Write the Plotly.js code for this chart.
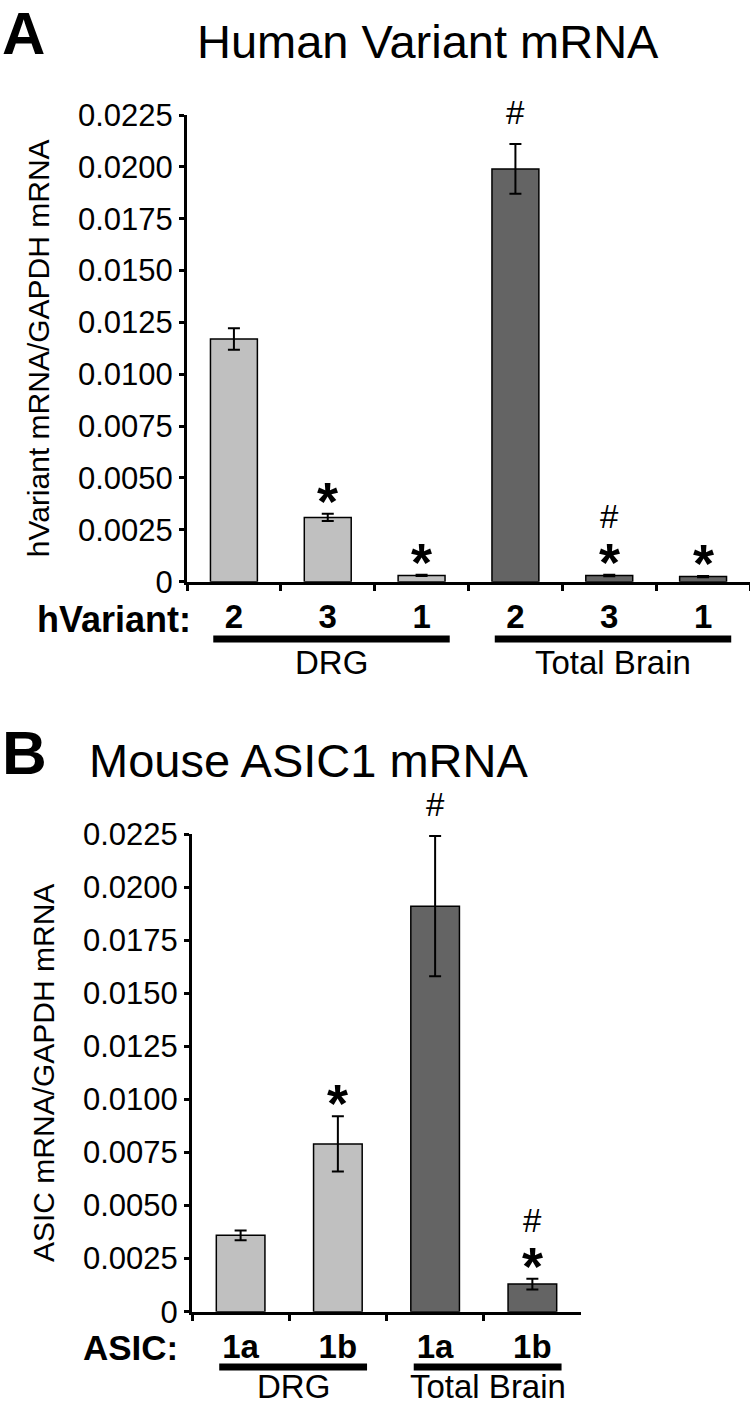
<!DOCTYPE html>
<html>
<head>
<meta charset="utf-8">
<script src="https://cdn.plot.ly/plotly-3.0.1.min.js"></script>
<style>
  body { margin: 0; background: #fff; }
  #chart { width: 750px; height: 1404px; }
</style>
</head>
<body>
<div id="chart"></div>
<script>
// panel A - human variants
var aVariants = ['2', '3', '1', '2', '3', '1'];
var aTissue = ['DRG', 'DRG', 'DRG', 'Total Brain', 'Total Brain', 'Total Brain'];
var aValues = [0.0117, 0.0031, 0.0003, 0.0199, 0.0003, 0.00025];
var aErrors = [0.00052, 0.00017, 0.00003, 0.0012, 0.00004, 0.00003];
var aStar = [false, true, true, false, true, true];
var aHash = [false, false, false, true, true, false];

// panel B - mouse ASIC1
var bIsoforms = ['1a', '1b', '1a', '1b'];
var bTissue = ['DRG', 'DRG', 'Total Brain', 'Total Brain'];
var bValues = [0.0036, 0.0079, 0.0191, 0.0013];
var bErrors = [0.00023, 0.0013, 0.0033, 0.00025];
var bStar = [false, true, false, true];
var bHash = [false, false, true, true];

var yTicks = [0, 0.0025, 0.005, 0.0075, 0.01, 0.0125, 0.015, 0.0175, 0.02, 0.0225];
var yTickText = ['0', '0.0025', '0.0050', '0.0075', '0.0100', '0.0125', '0.0150', '0.0175', '0.0200', '0.0225'];

var FONT = '"Liberation Sans", Arial, Helvetica, sans-serif';
var W = 750, H = 1404;
var tissueColor = { 'DRG': '#c0c0c0', 'Total Brain': '#646464' };

function px(x) { return x / W; }
function py(y) { return 1 - y / H; }

function cats(tissue, labels) {
  return labels.map(function (l, i) { return tissue[i] + ' ' + l + ' #' + i; });
}

var aCats = cats(aTissue, aVariants);
var bCats = cats(bTissue, bIsoforms);

function barTrace(x, y, err, tissue, xa, ya) {
  return {
    type: 'bar',
    x: x, y: y,
    xaxis: xa, yaxis: ya,
    width: 0.5,
    marker: {
      color: tissue.map(function (t) { return tissueColor[t]; }),
      line: { color: '#000', width: 1.5 }
    },
    error_y: { type: 'data', array: err, visible: true, color: '#000', thickness: 2, width: 6 },
    hoverinfo: 'y',
    showlegend: false
  };
}

var annotations = [];
var shapes = [];

function addMarkers(x, vals, errs, star, hash, xref, yref) {
  x.forEach(function (c, i) {
    var top = vals[i] + errs[i];
    if (star[i]) {
      annotations.push({ x: c, y: top, xref: xref, yref: yref, text: '<b>*</b>', showarrow: false,
        yanchor: 'middle', yshift: 13, font: { size: 54, family: FONT, color: '#000' } });
    }
    if (hash[i]) {
      annotations.push({ x: c, y: top, xref: xref, yref: yref, text: '#', showarrow: false,
        yanchor: 'middle', yshift: star[i] ? 58 : 32, font: { size: 33, family: FONT, color: '#000' } });
    }
  });
}

function addGroups(tissue, xref, lineY, textY, size) {
  var groups = [];
  tissue.forEach(function (t, i) {
    var g = groups.length ? groups[groups.length - 1] : null;
    if (g && g.name === t) { g.last = i; } else { groups.push({ name: t, first: i, last: i }); }
  });
  groups.forEach(function (g) {
    var x0 = g.first - 0.22, x1 = g.last + 0.3;
    shapes.push({ type: 'line', xref: xref, yref: 'paper', x0: x0, x1: x1, y0: py(lineY), y1: py(lineY),
      line: { color: '#000', width: 7 } });
    annotations.push({ x: (x0 + x1) / 2, y: py(textY), xref: xref, yref: 'paper', text: g.name,
      showarrow: false, yanchor: 'middle', font: { size: size, family: FONT, color: '#000' } });
  });
}

addMarkers(aCats, aValues, aErrors, aStar, aHash, 'x', 'y');
addMarkers(bCats, bValues, bErrors, bStar, bHash, 'x2', 'y2');
addGroups(aTissue, 'x', 639, 662, 33);
addGroups(bTissue, 'x2', 1367, 1386, 33);

annotations.push(
  { x: px(0), y: py(34), xref: 'paper', yref: 'paper', text: '<b>A</b>', showarrow: false,
    xanchor: 'left', yanchor: 'middle', font: { size: 60, family: FONT, color: '#000' } },
  { x: px(428), y: py(41), xref: 'paper', yref: 'paper', text: 'Human Variant mRNA', showarrow: false,
    yanchor: 'middle', font: { size: 47, family: FONT, color: '#000' } },
  { x: px(0), y: py(752), xref: 'paper', yref: 'paper', text: '<b>B</b>', showarrow: false,
    xanchor: 'left', yanchor: 'middle', font: { size: 62, family: FONT, color: '#000' } },
  { x: px(308), y: py(760), xref: 'paper', yref: 'paper', text: 'Mouse ASIC1 mRNA', showarrow: false,
    yanchor: 'middle', font: { size: 47, family: FONT, color: '#000' } },
  { x: px(193), y: py(619), xref: 'paper', yref: 'paper', text: '<b>hVariant:</b>', showarrow: false,
    xanchor: 'right', yanchor: 'middle', font: { size: 36, family: FONT, color: '#000' } },
  { x: px(180), y: py(1347), xref: 'paper', yref: 'paper', text: '<b>ASIC:</b>', showarrow: false,
    xanchor: 'right', yanchor: 'middle', font: { size: 35, family: FONT, color: '#000' } }
);

function xAxis(domain, catsArr, labels) {
  return {
    domain: domain,
    type: 'category',
    categoryorder: 'array', categoryarray: catsArr,
    tickvals: catsArr, ticktext: labels,
    tickson: 'boundaries',
    ticks: 'outside', ticklen: 6, tickwidth: 3, tickcolor: '#000',
    ticklabelstandoff: 4,
    tickfont: { size: 33, family: FONT, color: '#000', weight: 'bold' },
    showline: true, linewidth: 3, linecolor: '#000',
    showgrid: false, zeroline: false, fixedrange: true
  };
}

function yAxis(domain, anchor, title) {
  return {
    domain: domain, anchor: anchor,
    range: [0, 0.0225],
    tickvals: yTicks, ticktext: yTickText,
    ticks: 'outside', ticklen: 5, tickwidth: 3, tickcolor: '#000',
    tickfont: { size: 31, family: FONT, color: '#000' },
    showline: true, linewidth: 3, linecolor: '#000',
    showgrid: false, zeroline: false, fixedrange: true,
    title: { text: title, font: { size: 30, family: FONT, color: '#000' }, standoff: 20 }
  };
}

var data = [
  barTrace(aCats, aValues, aErrors, aTissue, 'x', 'y'),
  barTrace(bCats, bValues, bErrors, bTissue, 'x2', 'y2')
];

var layout = {
  width: W, height: H,
  margin: { l: 0, r: 0, t: 0, b: 0 },
  paper_bgcolor: '#fff', plot_bgcolor: '#fff',
  font: { family: FONT, color: '#000' },
  xaxis: xAxis([px(187), 1], aCats, aVariants),
  yaxis: yAxis([py(581.7), py(115)], 'x', 'hVariant mRNA/GAPDH mRNA'),
  xaxis2: Object.assign(xAxis([px(192), px(581)], bCats, bIsoforms), { anchor: 'y2' }),
  yaxis2: yAxis([py(1311.7), py(834)], 'x2', 'ASIC mRNA/GAPDH mRNA'),
  annotations: annotations,
  shapes: shapes
};

Plotly.newPlot('chart', data, layout, { displayModeBar: false, staticPlot: true });
</script>
</body>
</html>
